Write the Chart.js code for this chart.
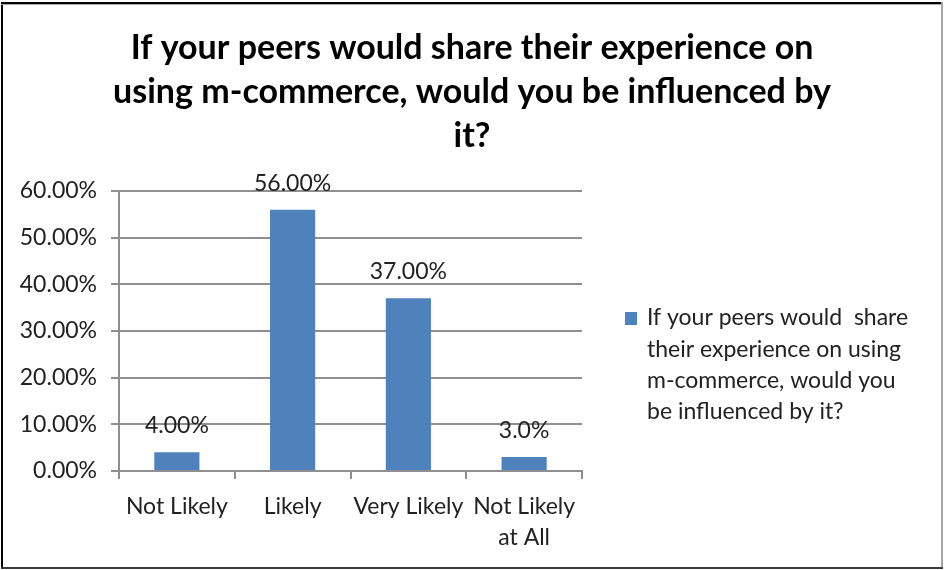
<!DOCTYPE html>
<html>
<head>
<meta charset="utf-8">
<style>
  html, body { margin: 0; padding: 0; background: #ffffff; }
  #wrap { width: 944px; height: 570px; position: relative; }
</style>
<script src="https://cdn.jsdelivr.net/npm/chart.js@4.4.1/dist/chart.umd.min.js"></script>
</head>
<body>
<div id="wrap"><canvas id="chart" width="944" height="570"></canvas></div>
<script>
// Survey answers and their shares (percent)
const categories = ['Not Likely', 'Likely', 'Very Likely', ['Not Likely', 'at All']];
const shares = [4, 56, 37, 3];
const shareLabels = ['4.00%', '56.00%', '37.00%', '3.0%'];
const yTickLabels = ['0.00%', '10.00%', '20.00%', '30.00%', '40.00%', '50.00%', '60.00%'];
const seriesName = 'If your peers would share their experience on using m-commerce, would you be influenced by it?';
const legendLines = ['If your peers would  share', 'their experience on using', 'm-commerce, would you', 'be influenced by it?'];
const titleLines = ['If your peers would share their experience on', 'using m-commerce, would you be influenced by', 'it?'];

const FONT = 'Lato, "Open Sans", sans-serif';
const TEXT = '#222222';
const GRID = '#8f8f8f';
const BAR = '#4f81bd';

// Value labels above each bar
const valueLabels = {
  id: 'valueLabels',
  afterDatasetsDraw(chart) {
    const ctx = chart.ctx;
    const meta = chart.getDatasetMeta(0);
    ctx.save();
    ctx.font = '23px ' + FONT;
    ctx.fillStyle = TEXT;
    ctx.textAlign = 'center';
    ctx.textBaseline = 'alphabetic';
    meta.data.forEach((bar, i) => {
      ctx.fillText(shareLabels[i], bar.x, bar.y - 19);
    });
    ctx.restore();
  }
};

// Series key on the right, wrapped over several lines
const sideLegend = {
  id: 'sideLegend',
  afterDraw(chart) {
    const ctx = chart.ctx;
    const ds = chart.data.datasets[0];
    ctx.save();
    ctx.fillStyle = ds.backgroundColor;
    ctx.fillRect(625, 312, 12, 13);
    ctx.font = '23px ' + FONT;
    ctx.fillStyle = TEXT;
    ctx.textAlign = 'left';
    ctx.textBaseline = 'middle';
    legendLines.forEach((line, i) => {
      ctx.fillText(line, 647, 318 + i * 31.3);
    });
    ctx.restore();
  }
};

// Frame around the whole figure
const frame = {
  id: 'frame',
  afterDraw(chart) {
    const ctx = chart.ctx;
    ctx.save();
    ctx.fillStyle = '#000000';
    ctx.fillRect(1, 2, 942, 2);
    ctx.fillRect(1, 2, 2, 567);
    ctx.fillStyle = '#a6a6a6';
    ctx.fillRect(1, 4, 942, 1);
    ctx.fillRect(941, 2, 2, 567);
    ctx.fillStyle = '#3a3a3a';
    ctx.fillRect(1, 567, 942, 2);
    ctx.restore();
  }
};

new Chart(document.getElementById('chart'), {
  type: 'bar',
  data: {
    labels: categories,
    datasets: [{
      label: seriesName,
      data: shares,
      backgroundColor: BAR,
      borderWidth: 0,
      categoryPercentage: 1.0,
      barPercentage: 0.39
    }]
  },
  options: {
    responsive: false,
    animation: false,
    devicePixelRatio: 1,
    layout: { padding: { left: 0, right: 0, top: 0, bottom: 0 } },
    plugins: {
      legend: { display: false },
      tooltip: { enabled: false },
      title: {
        display: true,
        text: titleLines,
        color: '#000000',
        font: { family: FONT, size: 34, weight: 'bold', lineHeight: '44px' },
        padding: { top: 26, bottom: 33 }
      }
    },
    scales: {
      x: {
        afterFit(scale) { scale.height = 99; },
        grid: {
          offset: true,
          drawOnChartArea: false,
          drawTicks: true,
          tickLength: 8,
          color: GRID,
          lineWidth: 2
        },
        border: { display: true, color: GRID, width: 2 },
        ticks: {
          color: TEXT,
          padding: 12,
          maxRotation: 0,
          autoSkip: false,
          font: { family: FONT, size: 23, lineHeight: 1.35 }
        }
      },
      y: {
        min: 0,
        max: 60,
        afterFit(scale) { scale.width = 119; },
        grid: {
          drawTicks: true,
          tickLength: 8,
          color: GRID,
          lineWidth: 2
        },
        border: { display: true, color: GRID, width: 2 },
        ticks: {
          stepSize: 10,
          color: TEXT,
          padding: 14,
          font: { family: FONT, size: 23 },
          callback: (v, i) => yTickLabels[i]
        }
      },
      keySpace: {
        type: 'linear',
        position: 'right',
        display: true,
        afterFit(scale) { scale.width = 362; },
        grid: { display: false },
        border: { display: false },
        ticks: { display: false }
      }
    }
  },
  plugins: [valueLabels, sideLegend, frame]
});
</script>
</body>
</html>
